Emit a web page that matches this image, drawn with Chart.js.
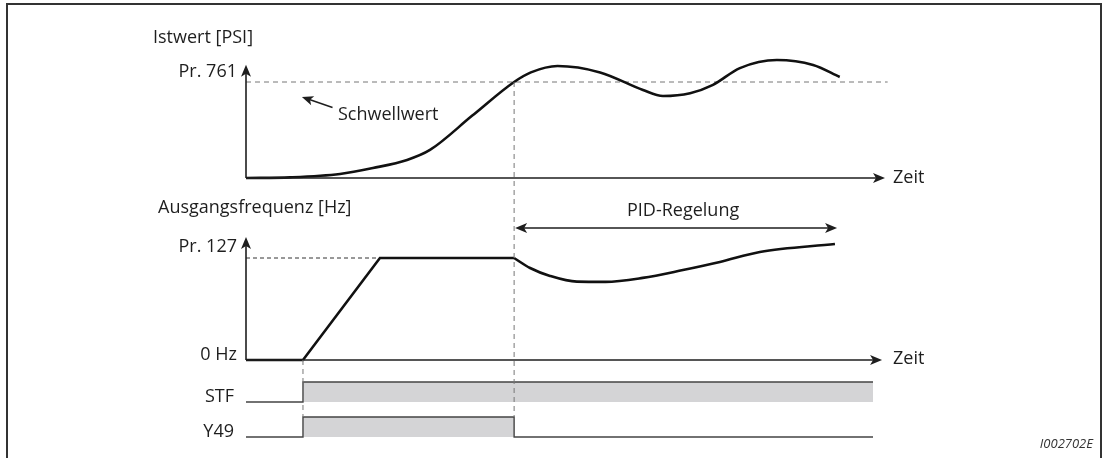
<!DOCTYPE html>
<html>
<head>
<meta charset="utf-8">
<script src="https://cdn.jsdelivr.net/npm/chart.js@4.4.1/dist/chart.umd.min.js"></script>
<style>
html, body { margin: 0; padding: 0; background: #fff; overflow: hidden; }
#frame { position: absolute; left: 6px; top: 3px; width: 1092px; height: 480px; border: 2px solid #333; border-bottom: none; }
#wrap { position: absolute; left: 0; top: 0; width: 1104px; height: 458px; }
</style>
</head>
<body>
<div id="frame"></div>
<div id="wrap"><canvas id="timing"></canvas></div>
<script>
// Zeitpunkte (willkürliche Zeiteinheit)
const tStart = 2.14;    // STF ein
const tRampEnd = 5.03;  // Pr. 127 erreicht
const tPid = 10.07;     // Schwellwert erreicht -> PID-Regelung
const tEnd = 23.55;

// Istwert in % von Pr. 761
const istwertT = [0, 1.65, 3.53, 4.77, 6.05, 6.91, 8.5, 10.07, 10.7, 11.7, 13.3, 14.91, 15.66, 16.68, 17.54, 18.55, 19.94, 21.3, 22.3];
const istwertV = [0, 0.7, 4.2, 10.4, 18.8, 29.2, 65, 100, 110, 116.7, 110, 91.7, 85.4, 88.3, 97, 114.5, 122.9, 117.7, 105.2];

// Ausgangsfrequenz in % von Pr. 127
const freqT = [0, tStart, tRampEnd, tPid];
const freqV = [0, 0, 100, 100];
const pidT = [10.07, 10.67, 11.42, 12.43, 13.5, 14.9, 16.41, 17.8, 19.3, 22.12];
const pidV = [100, 90.2, 82.4, 76.8, 76.6, 80.5, 88.2, 96.1, 105.9, 113.7];

// Signale (0 = aus, 1 = ein)
const stfT = [0, tStart, tStart, tEnd];
const stfV = [0, 0, 1, 1];
const y49T = [0, tStart, tStart, tPid, tPid, tEnd];
const y49V = [0, 0, 1, 1, 0, 0];

const FONT = "'Open Sans', sans-serif";
const INK = '#1e1e1e';

function pts(xs, ys) {
  return xs.map((x, i) => ({ x: x, y: ys[i] }));
}

function arrowHead(ctx, x, y, angle, size) {
  const s = size || 1;
  ctx.save();
  ctx.translate(x, y);
  ctx.rotate(angle);
  ctx.beginPath();
  ctx.moveTo(0, 0);
  ctx.lineTo(-12 * s, -5 * s);
  ctx.lineTo(-9 * s, 0);
  ctx.lineTo(-12 * s, 5 * s);
  ctx.closePath();
  ctx.fill();
  ctx.restore();
}

function line(ctx, x1, y1, x2, y2) {
  ctx.beginPath();
  ctx.moveTo(x1, y1);
  ctx.lineTo(x2, y2);
  ctx.stroke();
}

function text(ctx, str, x, y, align, font) {
  ctx.font = font || ('18px ' + FONT);
  ctx.textAlign = align || 'left';
  ctx.textBaseline = 'alphabetic';
  ctx.fillText(str, x, y);
}

const diagramPlugin = {
  id: 'diagram',
  afterDatasetsDraw(chart) {
    const ctx = chart.ctx;
    const x = chart.scales.x, yP = chart.scales.yPsi, yH = chart.scales.yHz;
    const yS = chart.scales.yStf, yY = chart.scales.yY49;
    const x0 = x.getPixelForValue(0);
    ctx.save();
    ctx.fillStyle = INK;
    ctx.strokeStyle = INK;

    // Achsen
    ctx.lineWidth = 1.6;
    line(ctx, x0, yP.getPixelForValue(0), x0, yP.getPixelForValue(112));
    arrowHead(ctx, x0, yP.getPixelForValue(118), -Math.PI / 2);
    line(ctx, x0, yP.getPixelForValue(0), x.getPixelForValue(23.7), yP.getPixelForValue(0));
    arrowHead(ctx, x.getPixelForValue(24), yP.getPixelForValue(0), 0);
    line(ctx, x0, yH.getPixelForValue(0), x0, yH.getPixelForValue(114));
    arrowHead(ctx, x0, yH.getPixelForValue(120.6), -Math.PI / 2);
    line(ctx, x0, yH.getPixelForValue(0), x.getPixelForValue(23.6), yH.getPixelForValue(0));
    arrowHead(ctx, x.getPixelForValue(23.89), yH.getPixelForValue(0), 0);

    // senkrechte Hilfslinien
    ctx.strokeStyle = '#777';
    ctx.lineWidth = 1;
    ctx.setLineDash([5, 4]);
    line(ctx, x.getPixelForValue(tPid), yP.getPixelForValue(100), x.getPixelForValue(tPid), yY.getPixelForValue(1));
    line(ctx, x.getPixelForValue(tStart), yH.getPixelForValue(0), x.getPixelForValue(tStart), yY.getPixelForValue(1));
    ctx.setLineDash([]);

    // Schwellwert-Pfeil
    ctx.strokeStyle = INK;
    ctx.lineWidth = 1.5;
    const ax = x.getPixelForValue(2.1), ay = yP.getPixelForValue(84.4);
    const bx = x.getPixelForValue(3.25), by = yP.getPixelForValue(73.5);
    line(ctx, bx, by, ax + 6, ay + 2);
    arrowHead(ctx, ax, ay, Math.atan2(ay - by, ax - bx), 0.95);

    // PID-Bereich
    const py = yH.getPixelForValue(129.4);
    const p1 = x.getPixelForValue(tPid) + 1, p2 = x.getPixelForValue(22.2);
    ctx.lineWidth = 1.6;
    line(ctx, p1 + 8, py, p2 - 8, py);
    arrowHead(ctx, p1, py, Math.PI);
    arrowHead(ctx, p2, py, 0);

    // Beschriftung
    text(ctx, 'Istwert [PSI]', 153, 43);
    text(ctx, 'Pr. 761', 237, 77, 'right');
    text(ctx, 'Schwellwert', 338, 120);
    text(ctx, 'Ausgangsfrequenz [Hz]', 158, 213);
    text(ctx, 'Pr. 127', 237, 252, 'right');
    text(ctx, '0 Hz', 237, yH.getPixelForValue(0), 'right');
    text(ctx, 'STF', 234, yS.getPixelForValue(0), 'right');
    text(ctx, 'Y49', 234, yY.getPixelForValue(0), 'right');
    text(ctx, 'PID-Regelung', 627, 216);
    text(ctx, 'Zeit', 893, yP.getPixelForValue(0) + 5);
    text(ctx, 'Zeit', 893, yH.getPixelForValue(0) + 4);
    ctx.fillStyle = '#333';
    text(ctx, 'I002702E', 1093, 448, 'right', 'italic 13px ' + FONT);
    ctx.restore();
  }
};

const curve = { pointRadius: 0, borderColor: '#111', borderWidth: 2.6, fill: false };

new Chart(document.getElementById('timing'), {
  type: 'line',
  data: {
    datasets: [
      Object.assign({ data: pts(istwertT, istwertV), yAxisID: 'yPsi', cubicInterpolationMode: 'monotone' }, curve),
      { data: pts([0, 24.1], [100, 100]), yAxisID: 'yPsi', pointRadius: 0, borderColor: '#777', borderWidth: 1, borderDash: [5, 4], clip: false },
      Object.assign({ data: pts(freqT, freqV), yAxisID: 'yHz', tension: 0 }, curve),
      Object.assign({ data: pts(pidT, pidV), yAxisID: 'yHz', cubicInterpolationMode: 'monotone' }, curve),
      { data: pts([0, tRampEnd], [100, 100]), yAxisID: 'yHz', pointRadius: 0, borderColor: '#333', borderWidth: 1, borderDash: [4, 3] },
      { data: pts(stfT, stfV), yAxisID: 'yStf', pointRadius: 0, borderColor: '#444', borderWidth: 1.4, tension: 0, fill: 'origin', backgroundColor: '#d4d4d6' },
      { data: pts(y49T, y49V), yAxisID: 'yY49', pointRadius: 0, borderColor: '#444', borderWidth: 1.4, tension: 0, fill: 'origin', backgroundColor: '#d4d4d6' }
    ]
  },
  options: {
    responsive: true,
    maintainAspectRatio: false,
    animation: false,
    events: [],
    layout: { padding: { left: 246, right: 219, top: 40, bottom: 13 } },
    plugins: { legend: { display: false }, tooltip: { enabled: false } },
    scales: {
      x: { type: 'linear', min: 0, max: 24, display: false },
      yPsi: { type: 'linear', min: -12.5, max: 143.75, display: false, stack: 'lanes', stackWeight: 150, weight: 4 },
      yHz: { type: 'linear', min: -9.8, max: 166.67, display: false, stack: 'lanes', stackWeight: 180, weight: 3 },
      yStf: { type: 'linear', min: -0.3, max: 1.6, display: false, stack: 'lanes', stackWeight: 38, weight: 2 },
      yY49: { type: 'linear', min: -0.4, max: 1.45, display: false, stack: 'lanes', stackWeight: 37, weight: 1 }
    }
  },
  plugins: [diagramPlugin]
});
</script>
</body>
</html>
